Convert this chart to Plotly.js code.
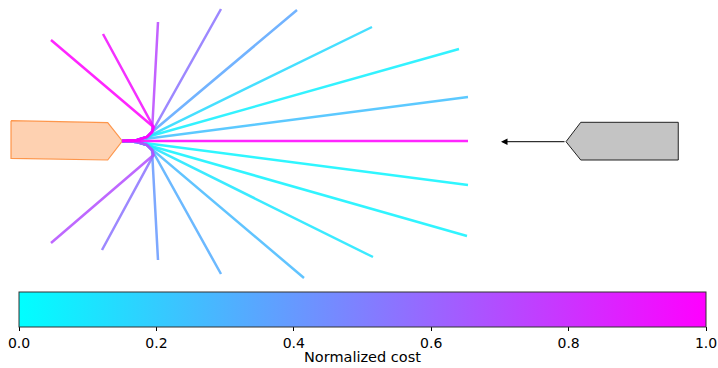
<!DOCTYPE html>
<html>
<head>
<meta charset="utf-8">
<script src="https://cdn.plot.ly/plotly-3.0.1.min.js"></script>
<style>
  html, body { margin: 0; padding: 0; background: #fff; }
  #chart { width: 718px; height: 368px; }
</style>
</head>
<body>
<div id="chart"></div>
<script>
// Candidate trajectories (metres, ego front at origin), endpoint and normalized cost
const trajEndX = [-2.84, -0.76, 1.44, 3.96, 7.00, 10.00, 13.48, 13.84, 13.84, 13.84, 13.80, 10.04, 7.28, 3.96, 1.44, -0.80, -2.84];
const trajEndY = [4.04, 4.28, 4.76, 5.28, 5.24, 4.56, 3.68, 1.76, 0.00, -1.76, -3.80, -4.64, -5.48, -5.32, -4.76, -4.36, -4.08];
const trajSide = [1, 1, 1, 1, 1, 1, 1, 1, 0, -1, -1, -1, -1, -1, -1, -1, -1];
const trajArcSteps = [4, 4, 3, 3, 3, 2, 2, 1, 0, 1, 1, 2, 2, 3, 3, 4, 4];
const trajCost = [1.00, 0.95, 0.72, 0.55, 0.35, 0.15, 0.06, 0.25, 1.00, 0.04, 0.05, 0.10, 0.27, 0.32, 0.40, 0.55, 0.70];

// Shared steering arc leaving the ego vehicle (left turn; right turn mirrors y)
const arcX = [0.60, 1.00, 1.20, 1.26];
const arcY = [0.04, 0.16, 0.36, 0.56];

// Ego vehicle outline
const egoX = [-4.44, -0.572, 0.012, -0.572, -4.44];
const egoY = [0.812, 0.732, 0.0, -0.76, -0.692];

// Oncoming vehicle outline and its heading arrow
const otherX = [17.76, 18.35, 22.25, 22.25, 18.35];
const otherY = [-0.028, 0.748, 0.748, -0.76, -0.76];
const arrowTail = [17.76, -0.028];
const arrowHead = [15.16, -0.028];

const costTicks = [0, 0.2, 0.4, 0.6, 0.8, 1.0];
const costLabel = 'Normalized cost';

// matplotlib "cool" colormap
function cool(v) {
  const r = Math.round(255 * v), g = Math.round(255 * (1 - v));
  return `rgb(${r},${g},255)`;
}

const traces = [];

traces.push({
  type: 'scatter', mode: 'lines',
  x: egoX.concat([egoX[0]]), y: egoY.concat([egoY[0]]),
  fill: 'toself', fillcolor: 'rgba(253,141,60,0.4)',
  line: { color: 'rgba(253,141,60,0.9)', width: 1.2 },
  hoverinfo: 'skip', showlegend: false
});

traces.push({
  type: 'scatter', mode: 'lines',
  x: otherX.concat([otherX[0]]), y: otherY.concat([otherY[0]]),
  fill: 'toself', fillcolor: '#c4c4c4',
  line: { color: '#222', width: 1 },
  hoverinfo: 'skip', showlegend: false
});

// draw low-cost trajectories first so high-cost ones sit on top
const order = trajCost.map((c, i) => i).sort((a, b) => trajCost[a] - trajCost[b]);
order.forEach(i => {
  const xs = [0], ys = [0];
  for (let k = 0; k < trajArcSteps[i]; k++) {
    xs.push(arcX[k]);
    ys.push(arcY[k] * trajSide[i]);
  }
  xs.push(trajEndX[i]);
  ys.push(trajEndY[i]);
  traces.push({
    type: 'scatter', mode: 'lines', x: xs, y: ys,
    line: { color: cool(trajCost[i]), width: 2.5 },
    opacity: 0.85, hoverinfo: 'skip', showlegend: false
  });
});

// invisible markers carrying the cost colour scale
traces.push({
  type: 'scatter', mode: 'markers', x: trajEndX, y: trajEndY,
  marker: {
    size: 1, opacity: 0, color: trajCost, cmin: 0, cmax: 1,
    colorscale: [[0, 'rgb(0,255,255)'], [1, 'rgb(255,0,255)']],
    showscale: true,
    colorbar: {
      orientation: 'h',
      lenmode: 'pixels', len: 687,
      thicknessmode: 'pixels', thickness: 35,
      x: 362.5 / 718, xanchor: 'center',
      y: (368 - 292) / 368, yanchor: 'top',
      xpad: 0, ypad: 0,
      outlinecolor: '#333', outlinewidth: 1,
      ticks: 'outside', ticklen: 4, tickwidth: 1, tickcolor: '#000',
      tickvals: costTicks, ticktext: costTicks.map(v => v.toFixed(1)),
      tickfont: { family: 'DejaVu Sans', size: 14, color: '#000' },
      title: { text: '' }
    }
  },
  hoverinfo: 'skip', showlegend: false
});

const layout = {
  width: 718, height: 368,
  margin: { l: 0, r: 0, t: 0, b: 0 },
  paper_bgcolor: '#fff', plot_bgcolor: '#fff',
  xaxis: { range: [-4.88, 23.84], visible: false, fixedrange: true },
  yaxis: { range: [-5.76, 5.64], domain: [1 - 285 / 368, 1], visible: false, fixedrange: true },
  annotations: [{
    x: arrowHead[0], y: arrowHead[1], ax: arrowTail[0], ay: arrowTail[1],
    xref: 'x', yref: 'y', axref: 'x', ayref: 'y',
    text: '', showarrow: true, arrowhead: 2, arrowsize: 1.3, arrowwidth: 1, arrowcolor: '#000'
  }, {
    x: 362.5 / 718, y: (368 - 357) / 368, xref: 'paper', yref: 'paper',
    xanchor: 'center', yanchor: 'middle', showarrow: false,
    text: costLabel, font: { family: 'DejaVu Sans', size: 14.5, color: '#000' }
  }],
  font: { family: 'DejaVu Sans' }
};

Plotly.newPlot('chart', traces, layout, { displayModeBar: false, staticPlot: true });
</script>
</body>
</html>
